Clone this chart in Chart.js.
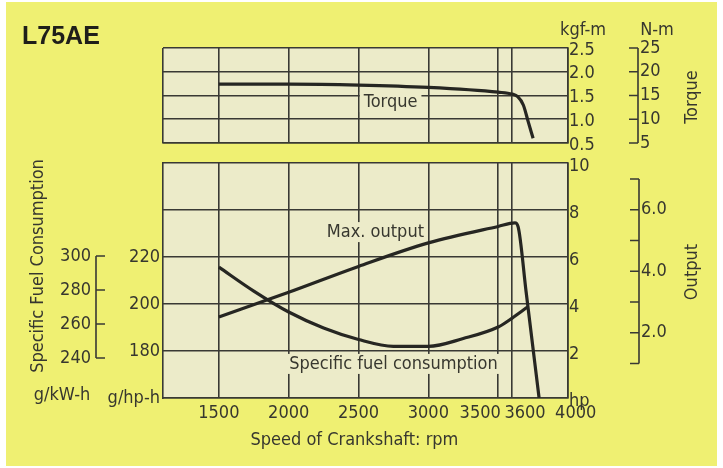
<!DOCTYPE html>
<html>
<head>
<meta charset="utf-8">
<script src="https://cdn.jsdelivr.net/npm/chart.js@4.4.1/dist/chart.umd.min.js"></script>
<style>
  html, body { margin: 0; padding: 0; background: #fff; }
  #page { position: relative; width: 723px; height: 468px; overflow: hidden; }
  #sheet { position: absolute; left: 6px; top: 2px; width: 711px; height: 464px; background: #eff072; }
  canvas { position: absolute; left: 0; top: 0; }
</style>
</head>
<body>
<div id="page">
  <div id="sheet"></div>
  <canvas id="torque" width="723" height="468"></canvas>
  <canvas id="perf" width="723" height="468"></canvas>
</div>
<script>
// rpm grid and range shared by both panels
const rpmGrid = [1500, 2000, 2500, 3000, 3500, 3600, 4000];
const rpmRange = [1100, 4000];

// torque (kgf-m)
const torqueRpm  = [1500, 2000, 2500, 3000, 3500, 3600, 3640, 3680, 3715, 3750];
const torqueKgfm = [1.74, 1.74, 1.72, 1.67, 1.57, 1.53, 1.475, 1.30, 0.95, 0.60];

// max. output (hp)
const outputRpm = [1500, 2000, 2500, 3000, 3500, 3620, 3643, 3700, 3793];
const outputHp  = [3.45, 4.50, 5.60, 6.60, 7.30, 7.45, 7.28, 4.52, 0.00];

// specific fuel consumption (g/hp-h)
const sfcRpm  = [1500, 1750, 2000, 2250, 2500, 2750, 3000, 3250, 3500, 3600, 3710];
const sfcGhph = [215.7, 205.5, 196.6, 189.8, 184.9, 182.0, 182.0, 185.3, 190.2, 194.0, 198.7];

// axis ticks
const kgfmTicks = [0.5, 1.0, 1.5, 2.0, 2.5];
const nmTicks   = [5, 10, 15, 20, 25];
const hpTicks   = [0, 2, 4, 6, 8, 10];
const ghphTicks = [160, 180, 200, 220];
const gkwhTicks = [240, 260, 280, 300];
const kwTicks   = [1, 2, 3, 4, 5, 6, 7];
const kwLabeled = [2, 4, 6];

const INK = '#37372f';
const GRID = '#393934';
const CURVE = '#262622';
const PLOT_BG = '#ecebc9';
const FS = 18;

function pickFont(list) {
  const c = document.createElement('canvas').getContext('2d');
  const s = 'Specific Fuel Consumption 1500';
  for (const f of list) {
    c.font = `20px "${f}", monospace`; const a = c.measureText(s).width;
    c.font = `20px "${f}", serif`; const b = c.measureText(s).width;
    c.font = '20px monospace'; const m = c.measureText(s).width;
    if (a === b && a !== m) return f;
  }
  return 'Liberation Sans';
}
const FONT = pickFont(['Liberation Sans Narrow', 'DejaVu Sans Condensed', 'Roboto Condensed', 'Liberation Sans']);
const FAMILY = `"${FONT}", "Liberation Sans", sans-serif`;

Chart.defaults.font.family = FAMILY;
Chart.defaults.font.size = FS;
Chart.defaults.color = INK;

const pts = (xs, ys) => xs.map((x, i) => ({ x, y: ys[i] }));
const setTicks = vals => s => { s.ticks = vals.map(v => ({ value: v })); };

function text(ctx, str, x, y, o = {}) {
  const size = o.size || FS;
  ctx.save();
  ctx.font = `${o.weight || 'normal'} ${size}px ${o.family || FAMILY}`;
  ctx.textAlign = o.align || 'center';
  ctx.textBaseline = 'middle';
  ctx.translate(x, y);
  if (o.rotate) ctx.rotate(o.rotate);
  if (o.bg) {
    const w = ctx.measureText(str).width;
    ctx.fillStyle = o.bg;
    ctx.fillRect(-w / 2 - 4, -size / 2 - 1, w + 8, size + 2);
  }
  ctx.fillStyle = o.color || INK;
  ctx.fillText(str, 0, 0);
  ctx.restore();
}

// bracket-style secondary axis drawn from a (hidden) chart scale
function bracket(ctx, scale, x, ticks, labels, side) {
  const yTop = scale.getPixelForValue(ticks[ticks.length - 1]);
  const yBot = scale.getPixelForValue(ticks[0]);
  ctx.save();
  ctx.strokeStyle = GRID;
  ctx.lineWidth = 1.6;
  ctx.beginPath();
  ctx.moveTo(x, yTop); ctx.lineTo(x, yBot);
  ticks.forEach(v => {
    const y = scale.getPixelForValue(v);
    ctx.moveTo(x, y); ctx.lineTo(x + side * 9, y);
  });
  ctx.stroke();
  ctx.restore();
  labels.forEach(([v, str]) => {
    text(ctx, str, side < 0 ? x + 2 : x - 5, scale.getPixelForValue(v), { align: side < 0 ? 'left' : 'right' });
  });
}

const plotBg = {
  id: 'plotBg',
  beforeDraw(chart) {
    const { ctx, chartArea: a } = chart;
    ctx.save();
    ctx.fillStyle = PLOT_BG;
    ctx.fillRect(a.left, a.top, a.right - a.left, a.bottom - a.top);
    ctx.restore();
  }
};

const torqueText = {
  id: 'torqueText',
  beforeDatasetsDraw(chart) {
    const { ctx, scales } = chart;
    text(ctx, 'Torque', scales.x.getPixelForValue(2730), scales.y.getPixelForValue(1.36), { bg: PLOT_BG });
  },
  afterDraw(chart) {
    const { ctx, scales } = chart;
    text(ctx, 'L75AE', 22, 37, { align: 'left', weight: 'bold', size: 25, family: '"Liberation Sans", Arial, sans-serif', color: '#1f1f1a' });
    text(ctx, 'kgf-m', 583, 30);
    text(ctx, 'N-m', 657, 30);
    text(ctx, 'Torque', 692, 97, { rotate: -Math.PI / 2 });
    bracket(ctx, scales.nm, 638, nmTicks, nmTicks.map(v => [v, String(v)]), -1);
  }
};

const perfText = {
  id: 'perfText',
  beforeDatasetsDraw(chart) {
    const { ctx, scales } = chart;
    text(ctx, 'Max. output', scales.x.getPixelForValue(2621), scales.y.getPixelForValue(7.06), { bg: PLOT_BG });
    text(ctx, 'Specific fuel consumption', scales.x.getPixelForValue(2750), scales.y.getPixelForValue(1.45), { bg: PLOT_BG });
  },
  afterDraw(chart) {
    const { ctx, scales } = chart;
    text(ctx, 'Specific Fuel Consumption', 38, 266, { rotate: -Math.PI / 2 });
    text(ctx, 'g/kW-h', 62, 395);
    text(ctx, 'Output', 692, 272, { rotate: -Math.PI / 2 });
    text(ctx, 'Speed of Crankshaft: rpm', scales.x.getPixelForValue(2471), 440);
    bracket(ctx, scales.kw, 639, kwTicks, kwLabeled.map(v => [v, v.toFixed(1)]), -1);
    bracket(ctx, scales.gkw, 96, gkwhTicks, gkwhTicks.map(v => [v, String(v)]), 1);
  }
};

const curve = {
  borderColor: CURVE, borderWidth: 3.2, pointRadius: 0,
  cubicInterpolationMode: 'monotone', fill: false
};
const gridOpts = { color: GRID, lineWidth: 1.6, drawTicks: false };
const borderOpts = { color: GRID, width: 1.6 };
const common = {
  responsive: false, animation: false, events: [],
  plugins: { legend: { display: false }, tooltip: { enabled: false } }
};

new Chart(document.getElementById('torque'), {
  type: 'line',
  data: { datasets: [{ ...curve, data: pts(torqueRpm, torqueKgfm), yAxisID: 'y' }] },
  options: {
    ...common,
    layout: { padding: { left: 163, top: 48, right: 0, bottom: 325 } },
    scales: {
      x: {
        type: 'linear', min: rpmRange[0], max: rpmRange[1],
        ticks: { display: false }, grid: gridOpts, border: borderOpts,
        afterBuildTicks: setTicks([rpmRange[0], ...rpmGrid]),
        afterFit: s => { s.height = 0; }
      },
      y: {
        position: 'right', min: 0.5, max: 2.5,
        afterBuildTicks: setTicks(kgfmTicks),
        ticks: { callback: v => v.toFixed(1), padding: 1, labelOffset: 2, autoSkip: false },
        grid: gridOpts, border: borderOpts,
        afterFit: s => { s.width = 155; }
      },
      nm: { position: 'right', display: false, min: 5, max: 25 }
    }
  },
  plugins: [plotBg, torqueText]
});

// label nudges keep the close 3500 / 3600 ticks readable
const rpmLabel = v => v === 3500 ? '3500       ' : v === 3600 ? '     3600' : v === 4000 ? '   4000' : String(v);

new Chart(document.getElementById('perf'), {
  type: 'line',
  data: {
    datasets: [
      { ...curve, data: pts(outputRpm, outputHp), yAxisID: 'y' },
      { ...curve, data: pts(sfcRpm, sfcGhph), yAxisID: 'sfc' }
    ]
  },
  options: {
    ...common,
    layout: { padding: { left: 0, top: 163, right: 0, bottom: 40 } },
    scales: {
      x: {
        type: 'linear', min: rpmRange[0], max: rpmRange[1],
        afterBuildTicks: setTicks(rpmGrid),
        ticks: { callback: rpmLabel, autoSkip: false, maxRotation: 0, padding: 5 },
        grid: gridOpts, border: borderOpts,
        afterFit: s => { s.height = 30; }
      },
      sfc: {
        position: 'left', min: 160, max: 260,
        afterBuildTicks: setTicks(ghphTicks),
        ticks: { callback: v => v === 160 ? 'g/hp-h' : String(v), padding: 3, autoSkip: false },
        grid: { display: false, drawTicks: false }, border: borderOpts,
        afterFit: s => { s.width = 163; }
      },
      y: {
        position: 'right', min: 0, max: 10,
        afterBuildTicks: setTicks(hpTicks),
        ticks: { callback: v => v === 0 ? 'hp' : String(v), padding: 1, labelOffset: 3, autoSkip: false },
        grid: gridOpts, border: borderOpts,
        afterFit: s => { s.width = 155; }
      },
      kw: { position: 'right', display: false, min: -0.12, max: 7.52 },
      gkw: { position: 'left', display: false, min: 216.5, max: 354.7 }
    }
  },
  plugins: [plotBg, perfText]
});
</script>
</body>
</html>
